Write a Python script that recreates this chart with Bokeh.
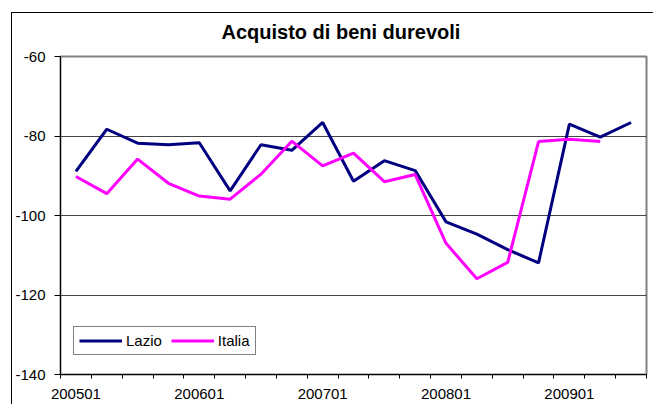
from bokeh.plotting import figure
from bokeh.models import FixedTicker, Legend, LegendItem, ColumnDataSource, Title
from bokeh.embed import file_html
from bokeh.resources import INLINE

# ---- data ----
periods = ["200501", "200504", "200507", "200510",
           "200601", "200604", "200607", "200610",
           "200701", "200704", "200707", "200710",
           "200801", "200804", "200807", "200810",
           "200901", "200904", "200907"]
lazio = [-88.9, -78.3, -81.8, -82.2, -81.7, -93.8, -82.2, -83.6, -76.6, -91.4,
         -86.2, -88.7, -101.6, -104.7, -108.6, -111.9, -77.0, -80.3, -76.6]
italia = [-90.2, -94.5, -85.8, -91.9, -95.1, -95.9, -89.6, -81.3, -87.5, -84.3,
          -91.5, -89.7, -107.0, -115.9, -111.8, -81.4, -80.8, -81.4]
y_ticks = [-140, -120, -100, -80, -60]
label_every = 4
chart_title = "Acquisto di beni durevoli"

FONT = "Liberation Sans"

x_idx = list(range(len(periods)))
src_l = ColumnDataSource(dict(x=x_idx[:len(lazio)], y=lazio))
src_i = ColumnDataSource(dict(x=x_idx[:len(italia)], y=italia))

p = figure(width=642, height=392,
           x_range=(-0.5, len(periods) - 0.5), y_range=(y_ticks[0], y_ticks[-1]),
           output_backend="svg", toolbar_location=None, title=None,
           min_border_left=46, min_border_right=8, min_border_top=43, min_border_bottom=31)

# outer chart-area border (top and left edges)
p.styles = {"margin-left": "11px", "margin-top": "12px",
            "border-left": "1px solid black", "border-top": "1px solid black"}

# small spacer between plot area and title, then the title itself
p.add_layout(Title(text=" ", text_font_size="7px", standoff=0), "above")
p.add_layout(Title(text=chart_title, align="left", offset=161,
                   text_font=FONT, text_font_size="20px", text_font_style="bold",
                   text_color="black", standoff=9), "above")

p.background_fill_color = "white"
p.border_fill_color = "white"
p.outline_line_color = "#808080"
p.outline_line_width = 2

# x axis
label_ticks = [i for i in x_idx if i % label_every == 0]
xt = FixedTicker(ticks=label_ticks, minor_ticks=[i - 0.5 for i in range(len(periods) + 1)])
p.xaxis.ticker = xt
p.xaxis.major_label_overrides = {i: periods[i] for i in label_ticks}
p.xaxis.major_tick_out = 0
p.xaxis.major_tick_in = 0
p.xaxis.minor_tick_out = 4
p.xaxis.minor_tick_in = 0
p.xaxis.minor_tick_line_color = "black"
p.xaxis.axis_line_color = "black"
p.xaxis.major_label_standoff = 10
p.xaxis.major_label_text_font = FONT
p.xaxis.major_label_text_font_size = "15px"
p.xaxis.major_label_text_color = "black"

# y axis
p.yaxis.ticker = FixedTicker(ticks=y_ticks)
p.yaxis.major_label_overrides = {v: str(v) for v in y_ticks}
p.yaxis.major_tick_out = 6
p.yaxis.major_tick_in = 0
p.yaxis.minor_tick_out = 0
p.yaxis.minor_tick_in = 0
p.yaxis.major_tick_line_color = "black"
p.yaxis.axis_line_color = "black"
p.yaxis.major_label_standoff = 9
p.yaxis.major_label_text_font = FONT
p.yaxis.major_label_text_font_size = "15px"
p.yaxis.major_label_text_color = "black"

p.xgrid.visible = False
p.ygrid.ticker = FixedTicker(ticks=y_ticks)
p.ygrid.grid_line_color = "#444444"
p.ygrid.grid_line_width = 1

r1 = p.line("x", "y", source=src_l, line_color="#000080", line_width=3)
r2 = p.line("x", "y", source=src_i, line_color="#FF00FF", line_width=3)

legend = Legend(items=[LegendItem(label="Lazio", renderers=[r1]),
                       LegendItem(label="Italia", renderers=[r2])],
                orientation="horizontal", location=(13, 19),
                border_line_color="black", border_line_width=1,
                background_fill_color="white", background_fill_alpha=1,
                padding=5, spacing=9, label_standoff=4, margin=0,
                glyph_width=43, glyph_height=17, label_height=17,
                label_text_font=FONT, label_text_font_size="15px",
                label_text_color="black")
p.add_layout(legend, "center")

open("out.html", "w").write(file_html(p, INLINE))
